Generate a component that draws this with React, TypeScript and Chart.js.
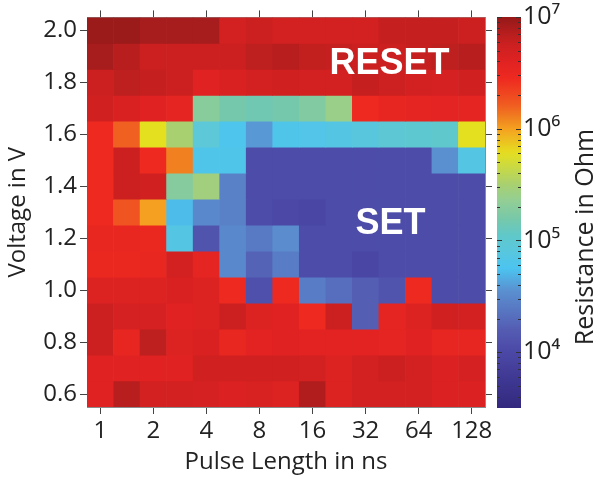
import React, { useEffect, useRef } from 'react';
import { Chart, registerables } from 'chart.js';
Chart.register(...registerables);

// ---- data ----
const pulseLengths = [1, 1.414, 2, 2.828, 4, 5.657, 8, 11.31, 16, 22.63, 32, 45.25, 64, 90.51, 128];
const voltages = [2.0, 1.9, 1.8, 1.7, 1.6, 1.5, 1.4, 1.3, 1.2, 1.1, 1.0, 0.9, 0.8, 0.7, 0.6];
const xTickValues = [1, 2, 4, 8, 16, 32, 64, 128];
const yTickValues = [0.6, 0.8, 1.0, 1.2, 1.4, 1.6, 1.8, 2.0];
const colorbarMin = 3162.28;
const colorbarMax = 1e7;

// log10(resistance in Ohm), one row per voltage (top row = 2.0 V)
const row2_0 = [6.97, 6.97, 6.92, 6.92, 6.92, 6.7, 6.75, 6.7, 6.7, 6.7, 6.7, 6.78, 6.78, 6.78, 6.75];
const row1_9 = [6.92, 6.85, 6.75, 6.75, 6.75, 6.75, 6.82, 6.85, 6.8, 6.78, 6.75, 6.75, 6.78, 6.82, 6.85];
const row1_8 = [6.75, 6.82, 6.78, 6.75, 6.6, 6.65, 6.7, 6.72, 6.7, 6.7, 6.78, 6.74, 6.7, 6.68, 6.72];
const row1_7 = [6.72, 6.65, 6.6, 6.55, 5.3, 5.18, 5.15, 5.18, 5.25, 5.4, 6.45, 6.52, 6.55, 6.57, 6.55];
const row1_6 = [6.45, 6.2, 5.78, 5.5, 4.95, 4.78, 4.58, 4.8, 4.82, 4.85, 4.9, 4.98, 5.0, 5.02, 5.78];
const row1_5 = [6.45, 6.75, 6.45, 6.1, 4.8, 4.8, 4.05, 4.05, 4.05, 4.05, 4.05, 4.05, 4.05, 4.55, 4.85];
const row1_4 = [6.45, 6.75, 6.72, 5.28, 5.45, 4.45, 4.05, 4.05, 4.05, 4.05, 4.05, 4.05, 4.05, 4.05, 4.05];
const row1_3 = [6.45, 6.25, 6.0, 4.72, 4.5, 4.45, 4.05, 4.0, 3.98, 4.05, 4.05, 4.05, 4.05, 4.05, 4.05];
const row1_2 = [6.5, 6.5, 6.48, 4.85, 4.12, 4.5, 4.4, 4.52, 4.05, 4.05, 4.05, 4.05, 4.05, 4.05, 4.05];
const row1_1 = [6.48, 6.48, 6.5, 6.7, 6.55, 4.5, 4.25, 4.42, 4.05, 4.05, 3.98, 4.05, 4.05, 4.05, 4.05];
const row1_0 = [6.62, 6.62, 6.62, 6.65, 6.62, 6.45, 4.08, 6.45, 4.42, 4.32, 4.22, 4.12, 6.45, 4.05, 4.05];
const row0_9 = [6.75, 6.68, 6.68, 6.6, 6.62, 6.75, 6.62, 6.6, 6.45, 6.75, 4.22, 6.55, 6.62, 6.72, 6.7];
const row0_8 = [6.75, 6.52, 6.82, 6.62, 6.65, 6.5, 6.58, 6.6, 6.58, 6.58, 6.58, 6.55, 6.6, 6.52, 6.52];
const row0_7 = [6.6, 6.6, 6.6, 6.6, 6.72, 6.72, 6.72, 6.72, 6.7, 6.62, 6.7, 6.75, 6.7, 6.64, 6.68];
const row0_6 = [6.6, 6.85, 6.7, 6.7, 6.68, 6.64, 6.66, 6.62, 6.88, 6.62, 6.7, 6.7, 6.7, 6.64, 6.64];
const logResistanceRows = [row2_0, row1_9, row1_8, row1_7, row1_6, row1_5, row1_4, row1_3, row1_2, row1_1, row1_0, row0_9, row0_8, row0_7, row0_6];

const regionLabels = ['RESET', 'SET'];
const regionPulse = [43.7, 44.3];
const regionVoltage = [1.87, 1.254];

// ---- colour map (log10 R -> rgb) ----
const cmap: [number, number[]][] = [
  [3.5, [50, 40, 126]],
  [4.0, [75, 72, 166]],
  [4.2, [84, 92, 178]],
  [4.4, [88, 122, 196]],
  [4.55, [90, 144, 208]],
  [4.75, [76, 196, 240]],
  [4.95, [92, 200, 216]],
  [5.05, [96, 200, 200]],
  [5.2, [120, 200, 168]],
  [5.35, [146, 206, 150]],
  [5.5, [168, 208, 112]],
  [5.78, [228, 224, 32]],
  [6.0, [245, 160, 32]],
  [6.1, [240, 128, 32]],
  [6.22, [240, 90, 32]],
  [6.45, [238, 42, 32]],
  [6.6, [224, 34, 34]],
  [6.75, [204, 32, 32]],
  [6.85, [184, 30, 30]],
  [6.97, [155, 26, 26]],
  [7.0, [150, 24, 24]],
];

function colorFor(v: number): string {
  if (v <= cmap[0][0]) return `rgb(${cmap[0][1].join(',')})`;
  for (let i = 1; i < cmap.length; i++) {
    const [v1, c1] = cmap[i];
    const [v0, c0] = cmap[i - 1];
    if (v <= v1) {
      const t = (v - v0) / (v1 - v0);
      const c = c0.map((a, k) => Math.round(a + (c1[k] - a) * t));
      return `rgb(${c.join(',')})`;
    }
  }
  return `rgb(${cmap[cmap.length - 1][1].join(',')})`;
}

const FONT = "'Open Sans', 'Noto Sans', sans-serif";
const TEXT = '#222';
const sup: Record<string, string> = { '0': '⁰', '1': '¹', '2': '²', '3': '³', '4': '⁴', '5': '⁵', '6': '⁶', '7': '⁷', '8': '⁸', '9': '⁹' };

export default function App() {
  const mainRef = useRef<HTMLCanvasElement>(null);
  const barRef = useRef<HTMLCanvasElement>(null);

  useEffect(() => {
    Chart.defaults.font.family = FONT;
    const xMin = Math.pow(2, -0.25);
    const xMax = Math.pow(2, 7.25);
    const setXTicks = (s: any) => { s.ticks = xTickValues.map((v) => ({ value: v })); };
    const setYTicks = (s: any) => { s.ticks = yTickValues.map((v) => ({ value: v })); };
    const axisGrid = { drawOnChartArea: false, drawTicks: true, tickLength: 7, color: '#444', lineWidth: 1 };
    const axisBorder = { display: true, color: '#8c8c8c', width: 1 };

    const labelPlugin = {
      id: 'regionLabels',
      afterDatasetsDraw(chart: any) {
        const { ctx } = chart;
        const xs = chart.scales.x;
        const ys = chart.scales.y;
        ctx.save();
        ctx.font = "bold 36px 'Liberation Sans', Arial, sans-serif";
        ctx.fillStyle = '#ffffff';
        ctx.textAlign = 'center';
        ctx.textBaseline = 'middle';
        regionLabels.forEach((t, i) => {
          ctx.fillText(t, xs.getPixelForValue(regionPulse[i]), ys.getPixelForValue(regionVoltage[i]));
        });
        ctx.restore();
      },
    };

    const main = new Chart(mainRef.current!, {
      type: 'bar',
      data: {
        datasets: voltages.map((v, r) => ({
          label: v.toFixed(1) + ' V',
          data: pulseLengths.map((p) => ({ x: p, y: [v - 0.05, v + 0.05] })),
          backgroundColor: logResistanceRows[r].map(colorFor),
          borderWidth: 0,
          grouped: false,
          categoryPercentage: 1,
          barPercentage: 1,
        })) as any,
      },
      options: {
        responsive: false,
        animation: false,
        devicePixelRatio: 1,
        layout: { padding: 0 },
        plugins: { legend: { display: false }, tooltip: { enabled: false } },
        scales: {
          x: {
            type: 'logarithmic',
            position: 'bottom',
            min: xMin,
            max: xMax,
            offset: false,
            afterBuildTicks: setXTicks,
            afterFit: (s: any) => { s.height = 72; },
            ticks: { autoSkip: false, maxRotation: 0, padding: 3, color: TEXT, font: { size: 24 }, callback: (v: any) => String(v) },
            grid: { ...axisGrid, offset: false },
            border: axisBorder,
            title: { display: true, text: 'Pulse Length in ns', color: TEXT, font: { size: 24 }, padding: { top: 0, bottom: 2 } },
          },
          x2: {
            type: 'logarithmic',
            position: 'top',
            min: xMin,
            max: xMax,
            offset: false,
            afterBuildTicks: setXTicks,
            afterFit: (s: any) => { s.height = 15; },
            ticks: { autoSkip: false, maxRotation: 0, padding: 0, font: { size: 1 }, callback: () => '' },
            grid: { ...axisGrid, offset: false },
            border: axisBorder,
          },
          y: {
            type: 'linear',
            position: 'left',
            min: 0.55,
            max: 2.05,
            afterBuildTicks: setYTicks,
            afterFit: (s: any) => { s.width = 87; },
            ticks: { autoSkip: false, padding: 3, color: TEXT, font: { size: 24 }, callback: (v: any) => Number(v).toFixed(1) },
            grid: axisGrid,
            border: axisBorder,
            title: { display: true, text: 'Voltage in V', color: TEXT, font: { size: 24 }, padding: { top: 4, bottom: 0 } },
          },
          y2: {
            type: 'linear',
            position: 'right',
            min: 0.55,
            max: 2.05,
            afterBuildTicks: setYTicks,
            afterFit: (s: any) => { s.width = 11; },
            ticks: { autoSkip: false, padding: 0, font: { size: 1 }, callback: () => '' },
            grid: axisGrid,
            border: axisBorder,
          },
        },
      } as any,
      plugins: [labelPlugin],
    });

    const barTicksPlugin = {
      id: 'barTicks',
      afterDatasetsDraw(chart: any) {
        const { ctx, chartArea } = chart;
        const ys = chart.scales.y;
        ctx.save();
        ctx.strokeStyle = '#333';
        ctx.lineWidth = 1;
        ys.ticks.forEach((t: any) => {
          const e = Math.log10(t.value);
          const major = Math.abs(e - Math.round(e)) < 1e-9;
          const len = major ? 5 : 3;
          const py = Math.round(ys.getPixelForValue(t.value)) + 0.5;
          ctx.beginPath();
          ctx.moveTo(chartArea.left, py); ctx.lineTo(chartArea.left + len, py);
          ctx.moveTo(chartArea.right - len, py); ctx.lineTo(chartArea.right, py);
          ctx.stroke();
        });
        ctx.restore();
      },
      afterDraw(chart: any) {
        const { ctx } = chart;
        ctx.save();
        ctx.translate(92, 237);
        ctx.rotate(-Math.PI / 2);
        ctx.font = `25px ${FONT}`;
        ctx.fillStyle = TEXT;
        ctx.textAlign = 'center';
        ctx.textBaseline = 'middle';
        ctx.fillText('Resistance in Ohm', 0, 0);
        ctx.restore();
      },
    };

    const bar = new Chart(barRef.current!, {
      type: 'bar',
      data: {
        labels: ['R'],
        datasets: [{
          data: [[colorbarMin, colorbarMax]] as any,
          borderWidth: 0,
          categoryPercentage: 1,
          barPercentage: 1,
          backgroundColor: (c: any) => {
            const chart = c.chart;
            const ys = chart.scales?.y;
            if (!chart.chartArea || !ys) return 'transparent';
            const y0 = ys.getPixelForValue(colorbarMin);
            const y1 = ys.getPixelForValue(colorbarMax);
            const g = chart.ctx.createLinearGradient(0, y0, 0, y1);
            const lo = Math.log10(colorbarMin);
            const hi = Math.log10(colorbarMax);
            for (let k = 0; k <= 70; k++) {
              const v = lo + (hi - lo) * (k / 70);
              g.addColorStop(k / 70, colorFor(v));
            }
            return g;
          },
        }],
      },
      options: {
        responsive: false,
        animation: false,
        devicePixelRatio: 1,
        layout: { padding: { left: 3, top: 17, bottom: 71, right: 0 } },
        plugins: { legend: { display: false }, tooltip: { enabled: false } },
        scales: {
          x: { display: false },
          y: {
            type: 'logarithmic',
            position: 'right',
            min: colorbarMin,
            max: colorbarMax,
            afterBuildTicks: (s: any) => {
              s.ticks = s.ticks.filter((t: any) => {
                const m = t.value / Math.pow(10, Math.floor(Math.log10(t.value) + 1e-9));
                return Math.abs(m - Math.round(m)) < 1e-6;
              });
            },
            afterFit: (s: any) => { s.width = 85; },
            ticks: {
              autoSkip: false,
              padding: 2,
              color: TEXT,
              font: { size: 25 },
              callback: (v: any) => {
                const e = Math.log10(Number(v));
                const r = Math.round(e);
                return Math.abs(e - r) < 1e-9 ? '10' + String(r).split('').map((d) => sup[d]).join('') : '';
              },
            },
            grid: { display: true, drawOnChartArea: false, drawTicks: false },
            border: { display: false },
          },
        },
      } as any,
      plugins: [barTicksPlugin],
    });

    return () => { main.destroy(); bar.destroy(); };
  }, []);

  return (
    <div style={{ position: 'fixed', left: 0, top: 0, width: 606, height: 479, background: '#fff' }}>
      <canvas ref={mainRef} width={496} height={479} style={{ position: 'absolute', left: 0, top: 0 }} />
      <canvas ref={barRef} width={112} height={479} style={{ position: 'absolute', left: 494, top: 0 }} />
    </div>
  );
}
